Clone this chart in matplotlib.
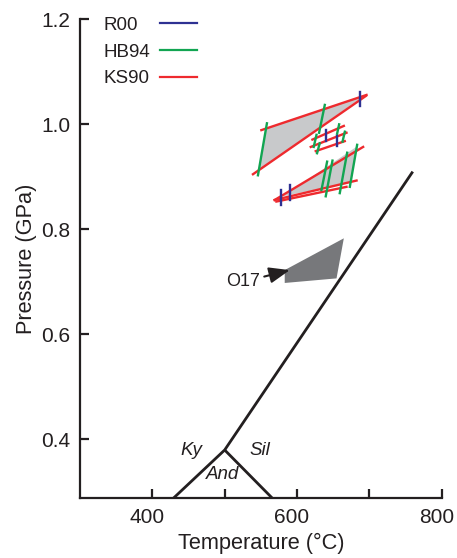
import matplotlib
matplotlib.use("Agg")
import matplotlib.pyplot as plt
import matplotlib.transforms as mtransforms

plt.rcParams['font.family'] = ['Liberation Sans', 'DejaVu Sans']

# --- Al2SiO5 phase boundaries (T in °C, P in GPa) ---
triple_point = (500, 0.38)
ky_sil_end = (760, 0.91)
ky_and_end = (429, 0.288)
and_sil_end = (566, 0.288)

# --- KS90 (GASP) lines: (T1, P1, T2, P2) ---
ks90_lines = [
    (550.7, 0.989, 696.1, 1.056),
    (539.1, 0.905, 695.1, 1.054),
    (621.3, 0.971, 664.7, 0.997),
    (619.0, 0.957, 668.4, 0.984),
    (625.9, 0.949, 666.0, 0.968),
    (569.1, 0.856, 691.4, 0.957),
    (569.1, 0.856, 682.3, 0.893),
    (571.5, 0.853, 668.4, 0.881),
]

# --- HB94 thermometer segments ---
hb94_lines = [
    (558.4, 1.002, 546.0, 0.903),
    (638.4, 1.037, 630.5, 0.984),
    (626.9, 0.980, 623.1, 0.957),
    (658.2, 1.000, 655.4, 0.982),
    (666.1, 0.986, 662.9, 0.967),
    (631.4, 0.964, 627.7, 0.945),
    (641.6, 0.929, 633.8, 0.875),
    (649.0, 0.931, 639.7, 0.863),
    (669.3, 0.946, 659.1, 0.869),
    (683.1, 0.961, 673.0, 0.881),
]

# --- R00 thermometer segments ---
r00_lines = [
    (686.8, 1.062, 686.8, 1.034),
    (639.7, 0.989, 639.7, 0.969),
    (654.6, 0.978, 654.6, 0.959),
    (577.4, 0.875, 577.4, 0.847),
    (589.9, 0.884, 589.9, 0.856),
]

# --- P-T fields bounded by the calibrations ---
field_upper_T = [557.3, 692.4, 547.2]
field_upper_P = [0.992, 1.054, 0.913]
field_lower_T = [580.2, 684.1, 673.0]
field_lower_P = [0.863, 0.959, 0.889]

# --- O17 field ---
o17_T = [583, 664.7, 654.6, 583]
o17_P = [0.7225, 0.783, 0.7067, 0.698]

legend_labels = ['R00', 'HB94', 'KS90']

RED = '#ee2a2e'
GREEN = '#12a552'
BLUE = '#2e3192'
INK = '#231f20'

fig = plt.figure(figsize=(4.57, 5.58), dpi=100)
ax = fig.add_axes([80 / 457, 59.7 / 558, (441.7 - 80) / 457, (498.3 - 19.3) / 558])

# phase boundaries
ax.plot([ky_and_end[0], triple_point[0], ky_sil_end[0]],
        [ky_and_end[1], triple_point[1], ky_sil_end[1]],
        color=INK, lw=2.0, solid_capstyle='butt', zorder=2)
ax.plot([triple_point[0], and_sil_end[0]], [triple_point[1], and_sil_end[1]],
        color=INK, lw=2.0, solid_capstyle='butt', zorder=2)

ax.fill(field_upper_T, field_upper_P, color='#c8c9cb', lw=0, zorder=1)
ax.fill(field_lower_T, field_lower_P, color='#c8c9cb', lw=0, zorder=1)
ax.fill(o17_T, o17_P, color='#77787b', lw=0, zorder=1)

for t1, p1, t2, p2 in ks90_lines:
    ax.plot([t1, t2], [p1, p2], color=RED, lw=1.7, zorder=3)
for t1, p1, t2, p2 in hb94_lines:
    ax.plot([t1, t2], [p1, p2], color=GREEN, lw=1.7, zorder=4)
for t1, p1, t2, p2 in r00_lines:
    ax.plot([t1, t2], [p1, p2], color=BLUE, lw=1.7, zorder=5)

ax.annotate('O17', xy=(590, 0.7225), xytext=(549, 0.7),
            fontsize=13, ha='right', va='center', color=INK,
            arrowprops=dict(arrowstyle='-|>,head_length=0.9,head_width=0.35',
                            color=INK, lw=1.5, mutation_scale=14,
                            shrinkA=1, shrinkB=0))

ax.text(453.7, 0.3796, 'Ky', style='italic', fontsize=13.5, ha='center', va='center', color=INK)
ax.text(548.3, 0.3796, 'Sil', style='italic', fontsize=13.5, ha='center', va='center', color=INK)
ax.text(497.5, 0.334, 'And', style='italic', fontsize=13.5, ha='center', va='center', color=INK)

# legend: label on the left, line sample on the right
leg_colors = [BLUE, GREEN, RED]
leg_text_y = [0.9777, 0.922, 0.8664]
leg_line_y = [0.9923, 0.936, 0.8803]
for lab, col, ty, ly in zip(legend_labels, leg_colors, leg_text_y, leg_line_y):
    ax.text(0.0636, ty, lab, transform=ax.transAxes, fontsize=13.5,
            ha='left', va='baseline', color=INK, clip_on=False)
    ax.plot([0.221, 0.3235], [ly, ly], transform=ax.transAxes, color=col,
            lw=1.6, clip_on=False)

ax.set_xlim(300, 800)
ax.set_ylim(0.288, 1.2)
ax.set_xticks([400, 500, 600, 700, 800])
ax.set_xticklabels(['400', '', '600', '', '800'])
ax.set_yticks([0.4, 0.6, 0.8, 1.0, 1.2])
ax.set_yticklabels(['0.4', '0.6', '0.8', '1.0', '1.2'])

for s in ['top', 'right']:
    ax.spines[s].set_visible(False)
for s in ['left', 'bottom']:
    ax.spines[s].set_linewidth(1.6)
    ax.spines[s].set_color(INK)
ax.tick_params(direction='in', length=6.5, width=1.6, color=INK,
               labelsize=15, pad=7, labelcolor=INK)

# nudge x tick labels slightly left
shift = mtransforms.ScaledTranslation(-5 / 100, 0, fig.dpi_scale_trans)
for lbl in ax.get_xticklabels():
    lbl.set_transform(lbl.get_transform() + shift)

ax.set_xlabel('Temperature (°C)', fontsize=15.7, color=INK, labelpad=4)
ax.set_ylabel('Pressure (GPa)', fontsize=15.7, color=INK, labelpad=3)

fig.savefig('out.png', dpi=100)
